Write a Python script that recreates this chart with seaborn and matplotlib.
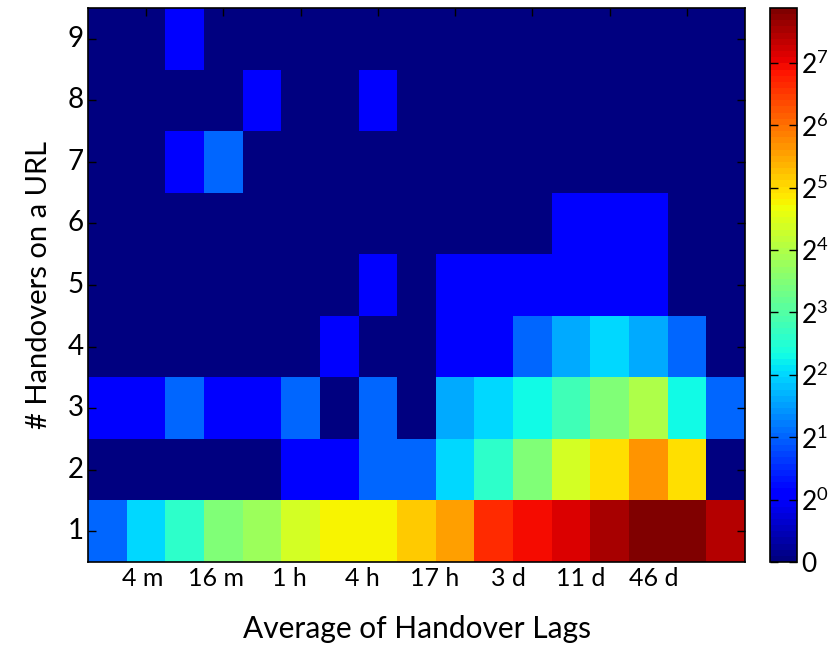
import numpy as np
import pandas as pd
import matplotlib
matplotlib.use("Agg")
import matplotlib.pyplot as plt
import seaborn as sns

# URLs per bin: rows = number of handovers (1..9), columns = 17 lag bins
handovers = [1, 2, 3, 4, 5, 6, 7, 8, 9]
lag_labels = ["4 m", "16 m", "1 h", "4 h", "17 h", "3 d", "11 d", "46 d"]

row1 = [2, 4, 6, 11, 14, 21, 28, 28, 36, 48, 100, 123, 145, 181, 235, 235, 168]
row2 = [0, 0, 0, 0, 0, 1, 1, 2, 2, 4, 6, 11, 21, 32, 52, 32, 0]
row3 = [1, 1, 2, 1, 1, 2, 0, 2, 0, 3, 4, 5, 7, 11, 16, 5, 2]
row4 = [0, 0, 0, 0, 0, 0, 1, 0, 0, 1, 1, 2, 3, 4, 3, 2, 0]
row5 = [0, 0, 0, 0, 0, 0, 0, 1, 0, 1, 1, 1, 1, 1, 1, 0, 0]
row6 = [0, 0, 0, 0, 0, 0, 0, 0, 0, 0, 0, 0, 1, 1, 1, 0, 0]
row7 = [0, 0, 1, 2, 0, 0, 0, 0, 0, 0, 0, 0, 0, 0, 0, 0, 0]
row8 = [0, 0, 0, 0, 1, 0, 0, 1, 0, 0, 0, 0, 0, 0, 0, 0, 0]
row9 = [0, 0, 1, 0, 0, 0, 0, 0, 0, 0, 0, 0, 0, 0, 0, 0, 0]

counts = np.array([row1, row2, row3, row4, row5, row6, row7, row8, row9], dtype=float)
# colour scale: 0 -> 0, 2^k -> k+1
vals = np.where(counts > 0, np.log2(np.maximum(counts, 1)) + 1, 0)
df = pd.DataFrame(vals, index=handovers)

plt.rcParams['font.family'] = ['Lato', 'DejaVu Sans']
plt.rcParams['mathtext.default'] = 'regular'

fig = plt.figure(figsize=(8.3, 6.49), dpi=100)
ax = fig.add_axes([88 / 830, 1 - 562 / 649, 657 / 830, 554 / 649])
cax = fig.add_axes([770 / 830, 1 - 562 / 649, 27 / 830, 554 / 649])

cmap = matplotlib.colormaps["jet"].resampled(90)
sns.heatmap(df, cmap=cmap, vmin=0, vmax=vals.max(), ax=ax, cbar_ax=cax,
            xticklabels=False, yticklabels=handovers)
ax.invert_yaxis()

for sp in ax.spines.values():
    sp.set_visible(True)
    sp.set_linewidth(1.2)
    sp.set_color("black")

ax.set_xticks(np.arange(1, 17, 2) + 0.5)
ax.set_xticklabels([])
ax.tick_params(axis='x', top=True, bottom=False, direction='in', length=6, width=1)
ax.tick_params(axis='y', left=True, right=True, direction='in', length=6, width=1,
               labelsize=20, pad=3)
plt.setp(ax.get_yticklabels(), rotation=0)

# lag labels were placed a bit off the ticks in the original
label_x = 1.42 + 1.89 * np.arange(len(lag_labels))
trans = matplotlib.transforms.blended_transform_factory(ax.transData, ax.transAxes)
for x, lab in zip(label_x, lag_labels):
    ax.text(x, -0.03, lab, transform=trans, ha='center', va='center', fontsize=18)

ax.set_xlabel("Average of Handover Lags", fontsize=21.5)
ax.xaxis.set_label_coords(0.5, -0.095)
ax.set_ylabel("# Handovers on a URL", fontsize=21)
ax.yaxis.set_label_coords(-0.055, 0.5)

cbar = ax.collections[0].colorbar
cbar.set_ticks(range(9))
cbar.set_ticklabels(["0"] + ["$2^{%d}$" % k for k in range(8)])
cbar.outline.set_linewidth(1.2)
cbar.outline.set_edgecolor("black")
cax.tick_params(direction='in', left=True, right=True, length=6, width=1,
                labelsize=19, pad=3)

fig.savefig("out.png", dpi=100)
